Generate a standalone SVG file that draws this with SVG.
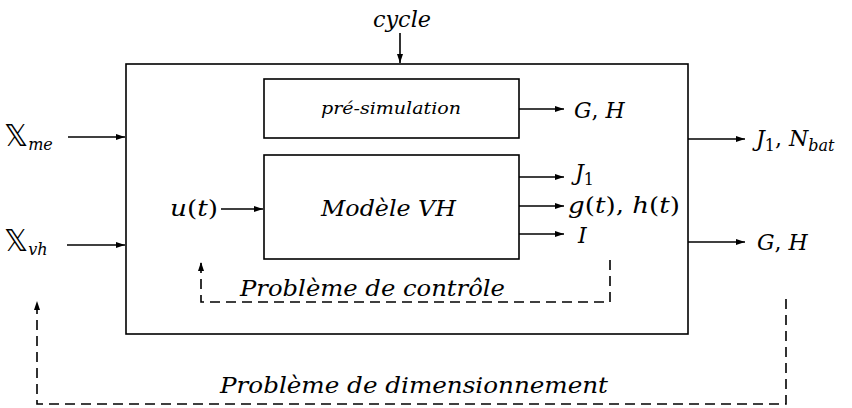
<svg xmlns="http://www.w3.org/2000/svg" width="852" height="408" viewBox="0 0 852 408">
<style>
  .box{fill:none;stroke:#000;stroke-width:1.6}
  .ln{fill:none;stroke:#000;stroke-width:1.6}
  .dash{fill:none;stroke:#000;stroke-width:1.6;stroke-dasharray:10,6}
  .t{font-family:"DejaVu Serif","Liberation Serif",serif;font-style:italic;font-size:22px;fill:#000}
  .r{font-family:"DejaVu Serif","Liberation Serif",serif;font-style:normal;font-size:22px;fill:#000}
  .bb{font-family:"DejaVu Sans","Noto Sans",sans-serif;font-style:normal;font-size:30px;fill:#000}
  .sub{font-size:16px}
</style>
<defs>
  <marker id="ah" markerWidth="10" markerHeight="8" refX="9" refY="4" orient="auto" markerUnits="userSpaceOnUse">
    <path d="M0,1 L9,4 L0,7 Z" fill="#000"/>
  </marker>
</defs>
<g id="outer"><rect class="box" x="126" y="64" width="562" height="270"/></g>
<g id="presim">
  <rect class="box" x="264" y="79" width="255" height="59"/>
  <text class="t" x="321" y="114" style="font-size:16px" textLength="140" lengthAdjust="spacingAndGlyphs">pré-simulation</text>
</g>
<g id="modele">
  <rect class="box" x="264" y="155" width="255" height="104"/>
  <text class="t" x="321" y="216" textLength="135" lengthAdjust="spacingAndGlyphs">Modèle VH</text>
</g>
<g id="labels">
  <text class="t" x="373" y="27" textLength="58" lengthAdjust="spacingAndGlyphs">cycle</text>
  <text x="4" y="146"><tspan class="bb">𝕏</tspan><tspan class="t sub" dy="4">me</tspan></text>
  <text x="4" y="251"><tspan class="bb">𝕏</tspan><tspan class="t sub" dy="4">vh</tspan></text>
  <text class="t" x="170" y="216" textLength="48" lengthAdjust="spacingAndGlyphs">u<tspan class="r">(</tspan>t<tspan class="r">)</tspan></text>
  <text class="t" x="574" y="118">G<tspan class="r">,</tspan> H</text>
  <text class="t" x="575" y="180">J<tspan class="r sub" dy="5">1</tspan></text>
  <text class="t" x="568" y="213" textLength="112" lengthAdjust="spacingAndGlyphs">g<tspan class="r">(</tspan>t<tspan class="r">),</tspan> h<tspan class="r">(</tspan>t<tspan class="r">)</tspan></text>
  <text class="t" x="578" y="243">I</text>
  <text class="t" x="756" y="146">J<tspan class="r sub" dy="5">1</tspan><tspan class="r" dy="-5">,</tspan> N<tspan class="sub" dy="5">bat</tspan></text>
  <text class="t" x="757" y="250">G<tspan class="r">,</tspan> H</text>
  <text class="t" x="240" y="296" textLength="265" lengthAdjust="spacingAndGlyphs">Problème de contrôle</text>
  <text class="t" x="220" y="393" textLength="388" lengthAdjust="spacingAndGlyphs">Problème de dimensionnement</text>
</g>
<g id="connectors">
  <line class="ln" x1="400" y1="33" x2="400" y2="63" marker-end="url(#ah)"/>
  <line class="ln" x1="68" y1="137" x2="125" y2="137" marker-end="url(#ah)"/>
  <line class="ln" x1="67" y1="245" x2="125" y2="245" marker-end="url(#ah)"/>
  <line class="ln" x1="221" y1="209" x2="263" y2="209" marker-end="url(#ah)"/>
  <line class="ln" x1="519" y1="109" x2="564" y2="109" marker-end="url(#ah)"/>
  <line class="ln" x1="519" y1="177" x2="564" y2="177" marker-end="url(#ah)"/>
  <line class="ln" x1="519" y1="206" x2="564" y2="206" marker-end="url(#ah)"/>
  <line class="ln" x1="519" y1="234" x2="564" y2="234" marker-end="url(#ah)"/>
  <line class="ln" x1="688" y1="139" x2="745" y2="139" marker-end="url(#ah)"/>
  <line class="ln" x1="688" y1="242" x2="745" y2="242" marker-end="url(#ah)"/>
  <polyline class="dash" points="610,260 610,302 201,302 201,262" marker-end="url(#ah)"/>
  <polyline class="dash" points="786,299 786,404 37,404 37,301" marker-end="url(#ah)"/>
</g>
</svg>
